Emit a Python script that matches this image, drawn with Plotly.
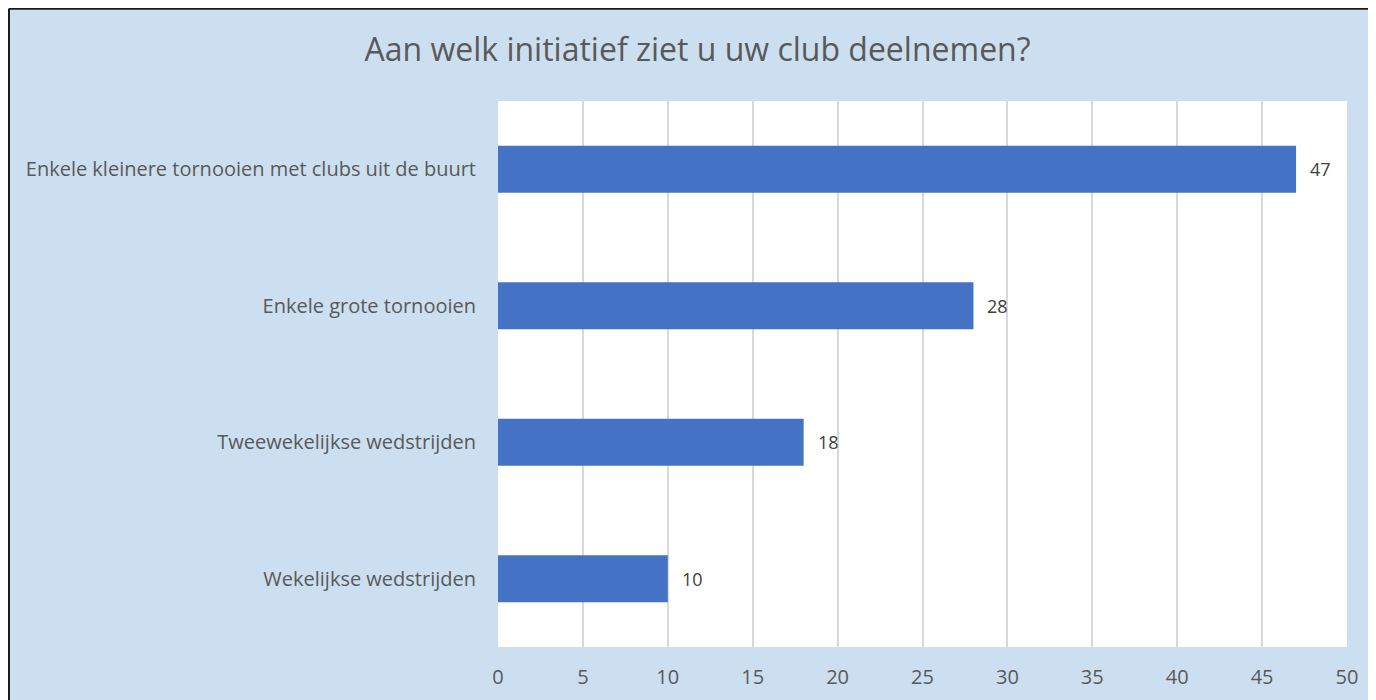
import plotly.graph_objects as go

# survey answers, top to bottom as in the chart
categories = [
    "Enkele kleinere tornooien met clubs uit de buurt",
    "Enkele grote tornooien",
    "Tweewekelijkse wedstrijden",
    "Wekelijkse wedstrijden",
]
counts = [47, 28, 18, 10]
x_ticks = [0, 5, 10, 15, 20, 25, 30, 35, 40, 45, 50]

font_family = "Open Sans, sans-serif"
text_grey = "#595959"
bg_blue = "#CCDFF0"

fig = go.Figure(
    go.Bar(
        x=counts,
        y=categories,
        orientation="h",
        marker=dict(color="#4472C4", line=dict(width=0)),
        hoverinfo="x+y",
    )
)

# value labels to the right of each bar
for cat, val in zip(categories, counts):
    fig.add_annotation(
        x=val, y=cat, text=str(val), showarrow=False,
        xanchor="left", xshift=12,
        font=dict(family=font_family, size=18, color="#404040"),
    )

# dark border on the left/top of the chart area
fig.add_shape(
    type="line", xref="paper", yref="paper",
    x0=-0.576, x1=-0.576, y0=-0.3, y1=1.169,
    line=dict(color="#1a1a1a", width=2),
)
fig.add_shape(
    type="line", xref="paper", yref="paper",
    x0=-0.576, x1=1.2, y0=1.169, y1=1.169,
    line=dict(color="#1a1a1a", width=2),
)

fig.update_layout(
    width=1400,
    height=700,
    margin=dict(l=490, r=61, t=93, b=61),
    paper_bgcolor=bg_blue,
    plot_bgcolor="white",
    bargap=0.655,
    showlegend=False,
    title=dict(
        text="Aan welk initiatief ziet u uw club deelnemen?",
        x=689.5 / 1400, xanchor="center",
        y=0.94, yanchor="middle",
        font=dict(family=font_family, size=32, color=text_grey),
    ),
    xaxis=dict(
        range=[0, 50],
        tickvals=x_ticks,
        showgrid=True,
        gridcolor="#D9D9D9",
        gridwidth=2,
        zeroline=False,
        showline=False,
        ticks="",
        ticklabelstandoff=16,
        tickfont=dict(family=font_family, size=20, color=text_grey),
    ),
    yaxis=dict(
        autorange="reversed",
        showgrid=False,
        zeroline=False,
        showline=False,
        ticks="",
        ticklabelstandoff=21,
        tickfont=dict(family=font_family, size=20, color=text_grey),
    ),
)

# hide page scrollbars so the chart area runs to the window edge
fig.write_html("out.html", post_script="document.body.style.overflow = 'hidden';")
